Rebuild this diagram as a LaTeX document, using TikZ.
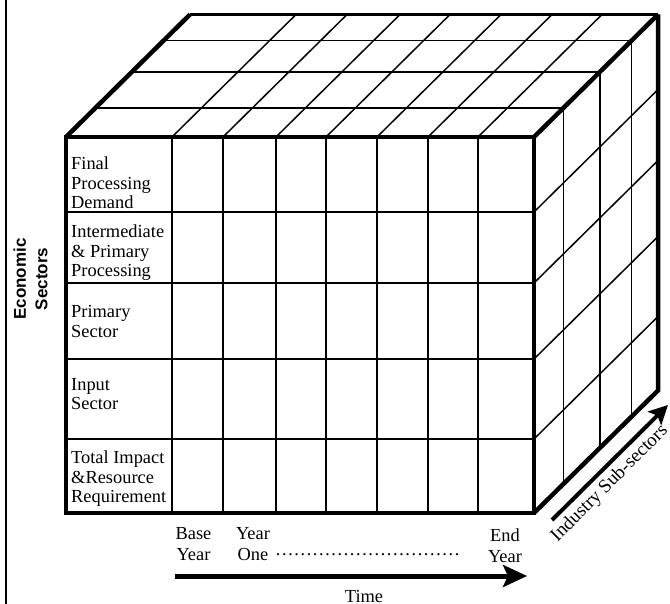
\documentclass[tikz,border=0pt]{standalone}
\usepackage{fontspec}
\setmainfont{Liberation Serif}
\setsansfont{Liberation Sans}
\usetikzlibrary{arrows.meta}
\begin{document}
\begin{tikzpicture}[x=1pt,y=-1pt,
  gridline/.style={line width=1.5pt},
  edge/.style={line width=4.5pt, line join=miter},
  lbl/.style={anchor=base west, inner sep=0pt, font=\fontsize{18.4}{20}\selectfont},
  clbl/.style={anchor=base, inner sep=0pt, font=\fontsize{18.4}{20}\selectfont},
  bigarrow/.style={line width=5pt, -{Stealth[length=24pt,width=22pt,inset=5pt]}},
  diagarrow/.style={line width=4pt, -{Stealth[length=19pt,width=19pt,inset=4pt]}}
]
\useasboundingbox (0,0) rectangle (670,604);
% left border
\draw[line width=2.5pt] (6,0) -- (6,604);
% corners
\coordinate (FTL) at (66,137);
\coordinate (FTR) at (534,137);
\coordinate (FBR) at (534,513);
\coordinate (FBL) at (66,513);
\coordinate (BTL) at (190,14.5);
\coordinate (BTR) at (658,14.5);
\coordinate (BBR) at (658,390.5);
% front grid
\foreach \x in {172,223,276,326,377,428,478}
  \draw[gridline] (\x,137) -- (\x,513);
\foreach \y in {212,283,359,439}
  \draw[gridline] (66,\y) -- (534,\y);
% top face
\foreach \x in {172,223,276,326,377,428,478}
  \draw[gridline] (\x,137) -- ++(124,-122.5);
\foreach \d in {0.236,0.532,0.786}
  \draw[gridline] ({66+124*\d},{137-122.5*\d}) -- ({534+124*\d},{137-122.5*\d});
% right face
\foreach \d in {0.236,0.532,0.786}
  \draw[gridline] ({534+124*\d},{137-122.5*\d}) -- ({534+124*\d},{513-122.5*\d});
\foreach \y in {212,283,359,439}
  \draw[gridline] (534,\y) -- ++(124,-122.5);
% outlines
\draw[edge] (FBL) rectangle (FTR);
\draw[edge] (FTL) -- (BTL);
\draw[line width=3.5pt] (BTL) -- (BTR);
\draw[edge] (BTR) -- (BBR) -- (FBR);
\draw[edge] (FTR) -- (BTR);
% axis title
\node[rotate=90, align=center, inner sep=0pt,
      font=\sffamily\bfseries\fontsize{17}{21.5}\selectfont] (econ) at (30.5,279) {Economic\\Sectors};
% row labels
\node[lbl] (r1a) at (71,169.5) {Final};
\node[lbl] (r1b) at (71,189.2) {Processing};
\node[lbl] (r1c) at (71,208.9) {Demand};
\node[lbl] (r2a) at (71,237.5) {Intermediate};
\node[lbl] (r2b) at (71,257.2) {\& Primary};
\node[lbl] (r2c) at (71,276.9) {Processing};
\node[lbl] (r3a) at (71,318) {Primary};
\node[lbl] (r3b) at (71,337.7) {Sector};
\node[lbl] (r4a) at (71,390) {Input};
\node[lbl] (r4b) at (71,409.7) {Sector};
\node[lbl] (r5a) at (71,463.3) {Total Impact};
\node[lbl] (r5b) at (71,483) {\&Resource};
\node[lbl] (r5c) at (71,502.7) {Requirement};
% time labels
\node[clbl] (t1a) at (193.5,539) {Base};
\node[clbl] (t1b) at (193.5,560) {Year};
\node[clbl] (t2a) at (253,539) {Year};
\node[clbl] (t2b) at (253,560) {One};
\node[anchor=base west, inner sep=0pt, font=\fontsize{18.5}{20}\selectfont] (dots) at (275,555) {{……}{……}{……}{……}{……}};
\node[clbl] (t3a) at (505,541) {End};
\node[clbl] (t3b) at (505,562) {Year};
% time arrow
\coordinate (tstart) at (175,576);
\coordinate (tend) at (527,576);
\draw[bigarrow] (tstart) -- (tend);
\node[clbl] (time) at (364,602) {Time};
% industry arrow
\coordinate (istart) at (552,520);
\coordinate (iend) at (668,405);
\draw[diagarrow] (istart) -- (iend);
\node[rotate=45, anchor=base, inner sep=0pt, font=\fontsize{19}{20}\selectfont] (ind) at (613,487) {Industry Sub-sectors};
\end{tikzpicture}
\end{document}
